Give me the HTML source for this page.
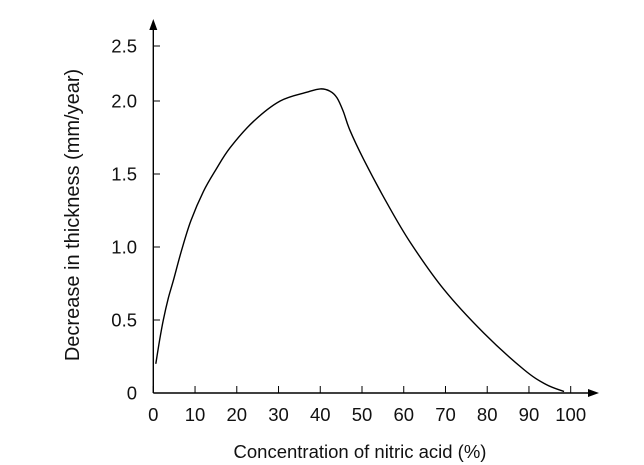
<!DOCTYPE html>
<html><head><meta charset="utf-8"><style>
html,body{margin:0;padding:0;background:#fff;}
svg{display:block;font-family:"Liberation Sans",Arial,sans-serif;}
</style></head><body>
<svg id="chart" width="644" height="465" viewBox="0 0 644 465" xmlns="http://www.w3.org/2000/svg"></svg>
<script>
const xTicks=[0,10,20,30,40,50,60,70,80,90,100];
const yTicks=[0,0.5,1.0,1.5,2.0,2.5];
const yTickLabels=["0","0.5","1.0","1.5","2.0","2.5"];
const concentration=[0.6,1.5,2.4,3.6,4.8,6.8,9,12,15,18.4,24,30.4,36.8,40,42.3,44,45.5,47.1,50.4,56,61.6,69.6,79.2,88.8,94,98.4];
const thickness=[0.2,0.36,0.5,0.65,0.77,0.98,1.18,1.38,1.53,1.68,1.86,2.0,2.08,2.11,2.09,2.03,1.93,1.80,1.60,1.30,1.03,0.71,0.41,0.16,0.06,0.01];

const NS="http://www.w3.org/2000/svg";
const svg=document.getElementById('chart');
function xs(v){return 153.3+v*4.174;}
function ys(v){ if(v<=2) return 393-v*146; return 101-(v-2)*110; }
function mk(tag,attrs){const e=document.createElementNS(NS,tag);for(const k in attrs)e.setAttribute(k,attrs[k]);svg.appendChild(e);return e;}

let a=mk('line',{x1:153.3,y1:393,x2:592,y2:393,stroke:'#000','stroke-width':1.4});


a=mk('polygon',{points:'599,393 588,389 588,397',fill:'#000'});


a=mk('line',{x1:153.3,y1:393,x2:153.3,y2:26,stroke:'#000','stroke-width':1.4});


a=mk('polygon',{points:'153.3,19 149.3,30 157.3,30',fill:'#000'});



xTicks.forEach(t=>{
  const x=xs(t);
  const l=mk('line',{x1:x,y1:393,x2:x,y2:386,stroke:'#000','stroke-width':1});
  
  
  const tx=mk('text',{x:x,y:421,'text-anchor':'middle','font-size':18.5,fill:'#111'});
  tx.textContent=String(t);
  
  
});
yTicks.forEach((t,i)=>{
  const y=ys(t);
  if(t>0){
    const l=mk('line',{x1:153.3,y1:y,x2:160,y2:y,stroke:'#000','stroke-width':1});
    
    
  }
  const tx=mk('text',{x:137,y:y+6.5,'text-anchor':'end','font-size':18.5,fill:'#111'});
  tx.textContent=yTickLabels[i];
  
  
});

let t=mk('text',{x:360,y:458,'text-anchor':'middle','font-size':18.5,fill:'#111'});
t.textContent='Concentration of nitric acid (%)';


t=mk('text',{x:0,y:0,'text-anchor':'middle','font-size':20,fill:'#111',transform:'translate(79,215) rotate(-90)'});
t.textContent='Decrease in thickness (mm/year)';



const pts=concentration.map((c,i)=>[xs(c),ys(thickness[i])]);
let d='M'+pts[0][0]+','+pts[0][1];
for(let i=0;i<pts.length-1;i++){
  const p0=pts[Math.max(0,i-1)],p1=pts[i],p2=pts[i+1],p3=pts[Math.min(pts.length-1,i+2)];
  const c1=[p1[0]+(p2[0]-p0[0])/6,p1[1]+(p2[1]-p0[1])/6];
  const c2=[p2[0]-(p3[0]-p1[0])/6,p2[1]-(p3[1]-p1[1])/6];
  d+=' C'+c1[0]+','+c1[1]+' '+c2[0]+','+c2[1]+' '+p2[0]+','+p2[1];
}
const path=mk('path',{d:d,fill:'none',stroke:'#000','stroke-width':1.4});


</script>
</body></html>
